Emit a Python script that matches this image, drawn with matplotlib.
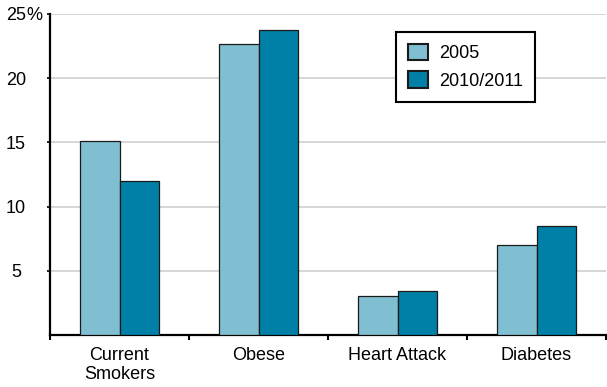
import matplotlib
matplotlib.use("Agg")
import matplotlib.pyplot as plt
import matplotlib.transforms as mtransforms
import numpy as np

categories = ["Current\nSmokers", "Obese", "Heart Attack", "Diabetes"]
series_names = ["2005", "2010/2011"]
values_2005 = [15.1, 22.7, 3.05, 7.0]
values_2010 = [12.0, 23.75, 3.45, 8.5]
y_ticks = [5, 10, 15, 20, 25]
y_tick_labels = ["5", "10", "15", "20", "25"]
y_unit = "%"

plt.rcParams['font.family'] = ['Liberation Sans', 'DejaVu Sans']
FS = 13

fig = plt.figure(figsize=(6.07, 3.87), dpi=100)
ax = fig.add_axes([50/607, 1-335/387, 556/607, 321/387])

x = np.arange(len(categories))
w = 0.285
light = "#80bfd2"
dark = "#0080a6"
ax.bar(x - w/2, values_2005, w, color=light, edgecolor="#1a1a1a", linewidth=0.9, label=series_names[0], zorder=3)
ax.bar(x + w/2, values_2010, w, color=dark, edgecolor="#1a1a1a", linewidth=0.9, label=series_names[1], zorder=3)

ax.set_xlim(-0.5, len(categories) - 0.5)
ax.set_ylim(0, 25)
ax.set_yticks(y_ticks)
ax.set_yticklabels(y_tick_labels, fontsize=FS, ha="center")
ax.yaxis.grid(True, color="#d0d0d0", linewidth=1.2, zorder=0)
ax.set_axisbelow(True)
ax.tick_params(axis='y', length=2, width=1.2, pad=22.5)

# percent sign after the top tick label
trans = mtransforms.blended_transform_factory(fig.transFigure, ax.transData)
ax.text(26/607, y_ticks[-1], y_unit, transform=trans, fontsize=FS, ha="left",
        va="center_baseline", clip_on=False)

ax.set_xticks(np.arange(len(categories) + 1) - 0.5)
ax.set_xticklabels([])
ax.set_xticks(x, minor=True)
ax.set_xticklabels(categories, minor=True, fontsize=FS, linespacing=1.2)
ax.tick_params(axis='x', which='major', length=3.5, width=1.5, color='black', direction='out')
ax.tick_params(axis='x', which='minor', length=0, pad=8.5)

for s in ["top", "right"]:
    ax.spines[s].set_visible(False)
ax.spines["left"].set_linewidth(1.6)
ax.spines["bottom"].set_linewidth(1.6)

leg = ax.legend(loc="upper left", bbox_to_anchor=(396/607, 1 - 32/387), bbox_transform=fig.transFigure,
                fontsize=FS, frameon=True, fancybox=False, edgecolor="black", framealpha=1,
                handlelength=1.15, handleheight=1.05, borderpad=0.65, labelspacing=0.5,
                handletextpad=0.6, borderaxespad=0)
leg.get_frame().set_linewidth(1.5)
for p in leg.get_patches():
    p.set_linewidth(1.5)

fig.savefig("out.png", dpi=100)
